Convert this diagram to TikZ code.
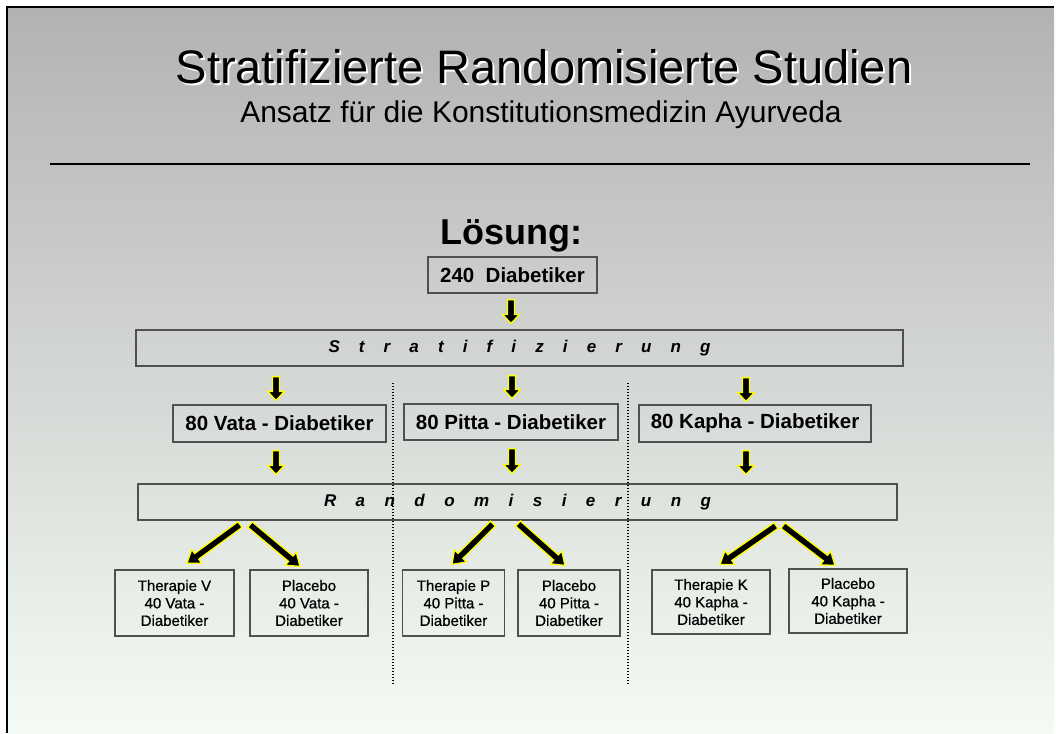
\documentclass[tikz,border=0pt]{standalone}
\usepackage{fontspec}
\setmainfont{Liberation Sans}
\newfontfamily\semibold[FakeBold=0.7]{Liberation Sans}
\usetikzlibrary{calc}
\definecolor{bgtop}{RGB}{178,178,178}
\definecolor{bgbot}{RGB}{244,251,244}
\definecolor{boxline}{RGB}{80,80,80}
\definecolor{arrowyellow}{RGB}{255,255,0}
\newcommand\blockarrow[3][9pt]{%
  \coordinate (ba-p) at #2;
  \coordinate (ba-q) at #3;
  \coordinate (ba-h) at ($(ba-q)!#1!(ba-p)$);
  \filldraw[blockarrowsty] ($(ba-p)!3.5pt!90:(ba-q)$) -- ($(ba-h)!3.5pt!90:(ba-q)$) -- ($(ba-h)!8.5pt!90:(ba-q)$) -- (ba-q) -- ($(ba-h)!8.5pt!-90:(ba-q)$) -- ($(ba-h)!3.5pt!-90:(ba-q)$) -- ($(ba-p)!3.5pt!-90:(ba-q)$) -- cycle;
}
\begin{document}
\begin{tikzpicture}[x=1pt,y=-1pt,
  blockarrowsty/.style={fill=black, draw=arrowyellow, line width=1.3pt, line join=miter},
  box/.style={draw=boxline, line width=1.2pt, inner sep=0pt, font=\bfseries\fontsize{20.5}{24}\selectfont},
  bar/.style={draw=boxline, line width=1.2pt, inner sep=0pt, font=\bfseries\itshape\fontsize{17}{20}\selectfont},
  smallbox/.style={draw=boxline, line width=1.2pt, inner sep=0pt, align=center, font=\semibold\fontsize{15}{17.5}\selectfont},
  dotline/.style={line width=1.4pt, dash pattern=on 1.4pt off 1.6pt}]
\useasboundingbox (0,0) rectangle (1056,733);
\fill[white] (0,0) rectangle (1056,733);
\shade[top color=bgtop, bottom color=bgbot] (7,7) rectangle (1054,733);
\draw[line width=2.5pt] (7,733) -- (7,7) -- (1054,7);
% title
\node[anchor=base, text=white, font=\fontsize{47}{56}\selectfont] (titleshadow) at (546,86) {Stratifizierte Randomisierte Studien};
\node[anchor=base, font=\fontsize{47}{56}\selectfont] (title) at (544,84) {Stratifizierte Randomisierte Studien};
\node[anchor=base, font=\fontsize{30}{36}\selectfont] (subtitle) at (541,122) {Ansatz für die Konstitutionsmedizin Ayurveda};
\draw[line width=1.3pt] (50,164) -- (1030,164);
\node[anchor=base, font=\bfseries\fontsize{36}{43}\selectfont] (loesung) at (511,244) {Lösung:};
% boxes
\node[box, minimum width=169pt, minimum height=36pt] (b240) at (512.5,275) {240\ \ Diabetiker};
\node[bar, minimum width=767pt, minimum height=36pt] (strat) at (519.5,348) {\makebox[382pt][s]{S t r a t i f i z i e r u n g}};
\node[box, minimum width=213pt, minimum height=37pt] (vata) at (279.5,423.5) {80 Vata - Diabetiker};
\node[box, minimum width=214pt, minimum height=36pt] (pitta) at (511,422) {80 Pitta - Diabetiker};
\node[box, minimum width=232pt, minimum height=37pt] (kapha) at (755,423.5) {80 Kapha - Diabetiker};
\node[bar, minimum width=759pt, minimum height=36pt] (rand) at (517.5,502) {\makebox[387pt][s]{R a n d o m i s i e r u n g}};
\node[smallbox, minimum width=119pt, minimum height=66pt] (tv) at (174.5,603) {Therapie V\\40 Vata -\\Diabetiker};
\node[smallbox, minimum width=118pt, minimum height=66pt] (pv) at (309,603) {Placebo\\40 Vata -\\Diabetiker};
\node[smallbox, minimum width=102pt, minimum height=66pt] (tp) at (453.5,603) {Therapie P\\40 Pitta -\\Diabetiker};
\node[smallbox, minimum width=102pt, minimum height=66pt] (pp) at (569,603) {Placebo\\40 Pitta -\\Diabetiker};
\node[smallbox, minimum width=118pt, minimum height=64pt] (tk) at (711,602) {Therapie K\\40 Kapha -\\Diabetiker};
\node[smallbox, minimum width=118pt, minimum height=64pt] (pk) at (848,601) {Placebo\\40 Kapha -\\Diabetiker};
% dotted separators
\draw[dotline] (393,383) -- (393,685);
\draw[dotline] (628,383) -- (628,685);
% vertical arrows
\blockarrow{($(b240.south)+(-1.5,6)$)}{($(strat.north -| b240.south)+(-1.5,-6)$)}
\blockarrow{($(strat.south -| vata.north)+(-3.5,10)$)}{($(vata.north)+(-3.5,-4)$)}
\blockarrow{($(strat.south -| pitta.north)+(1,9)$)}{($(pitta.north)+(1,-5)$)}
\blockarrow{($(strat.south -| kapha.north)+(-9,11)$)}{($(kapha.north)+(-9,-3)$)}
\blockarrow{($(vata.south)+(-3.5,8)$)}{($(rand.north -| vata.south)+(-3.5,-9)$)}
\blockarrow{($(pitta.south)+(1,8)$)}{($(rand.north -| pitta.south)+(1,-10)$)}
\blockarrow{($(kapha.south)+(-9,8)$)}{($(rand.north -| kapha.south)+(-9,-9)$)}
% diagonal arrows
\coordinate (r1) at ($(rand.south)+(-277.5,4)$);
\coordinate (r2) at ($(rand.south)+(-267.5,4)$);
\coordinate (r3) at ($(rand.south)+(-24.5,3)$);
\coordinate (r4) at ($(rand.south)+(0.5,3)$);
\coordinate (r5) at ($(rand.south)+(258.5,5)$);
\coordinate (r6) at ($(rand.south)+(265.5,5)$);
\blockarrow[12pt]{(r1)}{($(tv.north)+(12.5,-6)$)}
\blockarrow[12pt]{(r2)}{($(pv.north)+(-9,-3)$)}
\blockarrow[12pt]{(r3)}{($(tp.north)+(-1.5,-5)$)}
\blockarrow[12pt]{(r4)}{($(pp.north)+(-4,-4)$)}
\blockarrow[12pt]{(r5)}{($(tk.north)+(9,-5)$)}
\blockarrow[12pt]{(r6)}{($(pk.north)+(-13,-3)$)}
\end{tikzpicture}
\end{document}
